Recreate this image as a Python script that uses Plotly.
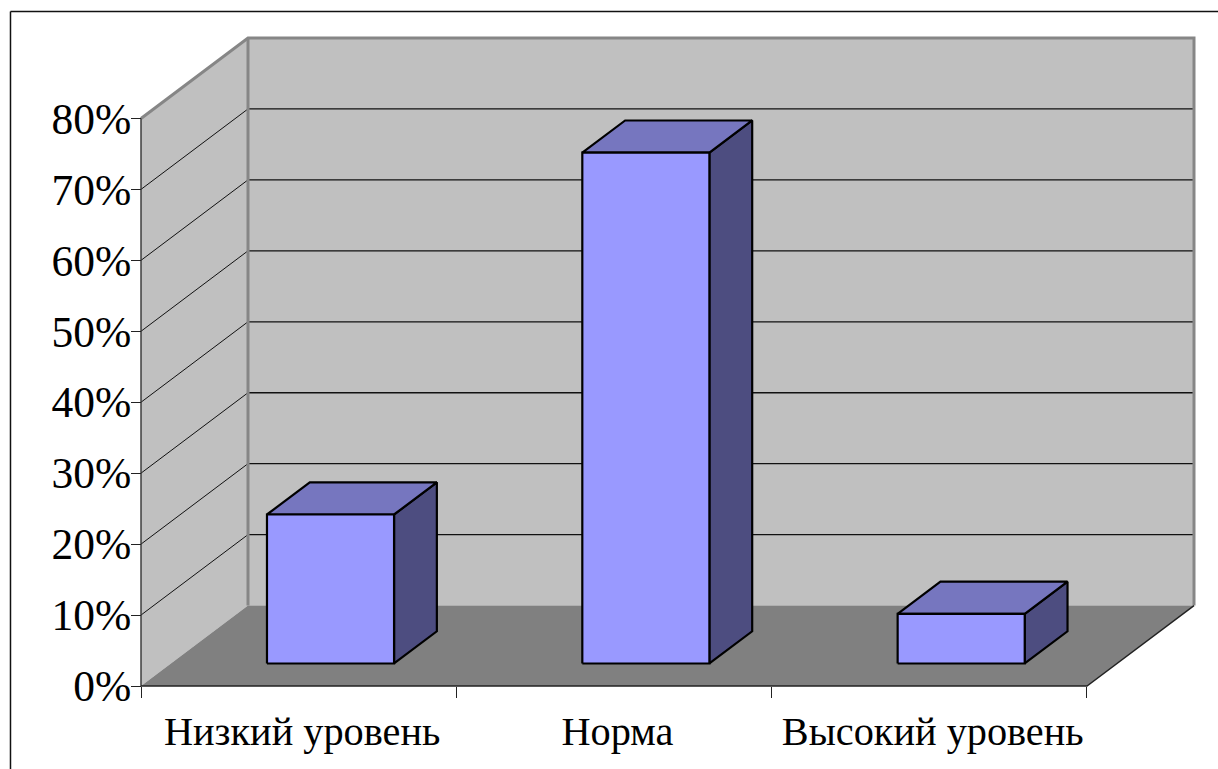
import plotly.graph_objects as go

# Chart data
categories = ["Низкий уровень", "Норма", "Высокий уровень"]
values = [21, 72, 7]
y_ticks = [0, 10, 20, 30, 40, 50, 60, 70, 80]
y_labels = ["0%", "10%", "20%", "30%", "40%", "50%", "60%", "70%", "80%"]

# Page and scale of the oblique box, in pixels
WIDTH, HEIGHT = 1218, 769
LEFT, BASE = 141.0, 686.5
CAT_PX, PCT_PX = 315.3, 7.1
WALL_DX, WALL_DY = 107.0, 80.5
PAD = 8.0

# Depth of the box and placement of the bars inside it, in axis units
DX = WALL_DX / CAT_PX
DY = WALL_DY / PCT_PX
BAR_WIDTH = 0.403
BAR_FRONT = 0.28
BAR_DEPTH = 0.40
BAR_SHIFT = 0.006
LABEL_SHIFT = 0.011
N = len(categories)
TOP = y_ticks[-1]

WALL = "#c0c0c0"
FLOOR = "#808080"
EDGE = "#868686"
FRONT = "#9999ff"
ROOF = "#7676bf"
SIDE = "#4d4d80"
FONT = "Liberation Serif"

fig = go.Figure()


def poly(xs, ys, fill=None, color=None, width=1.0):
    """Add a polygon or polyline given in axis units."""
    fig.add_trace(go.Scatter(
        x=xs, y=ys, mode="lines",
        fill="toself" if fill else None,
        fillcolor=fill,
        line=dict(color=color or "rgba(0,0,0,0)", width=width, simplify=False),
        hoverinfo="skip", showlegend=False,
    ))


# Side wall, back wall and floor
poly([0, DX, DX, 0, 0], [0, DY, TOP + DY, TOP, 0], fill=WALL)
poly([DX, N + DX, N + DX, DX, DX], [DY, DY, TOP + DY, TOP + DY, DY], fill=WALL)
poly([0, N, N + DX, DX, 0], [0, 0, DY, DY, 0], fill=FLOOR)

# Gridlines running along both walls
for tick in y_ticks[1:-1]:
    poly([0, DX], [tick, tick + DY], color="#111111", width=1.0)
    poly([DX, N + DX], [tick + DY, tick + DY], color="#111111", width=1.3)

# Heavy outline of the walls
poly([0, DX, N + DX, N + DX], [TOP, TOP + DY, TOP + DY, DY], color=EDGE, width=3)
poly([DX, DX], [DY, TOP + DY], color=EDGE, width=3)

# Front edges of the box
poly([0, 0], [0, TOP], color="#333333", width=1.4)
poly([0, N, N + DX], [0, 0, DY], color="#222222", width=1.4)

# Bars: front face, roof and side face of each box
bx = BAR_FRONT * DX
by = BAR_FRONT * DY
ddx = BAR_DEPTH * DX
ddy = BAR_DEPTH * DY
for i, value in enumerate(values):
    x0 = i + 0.5 - BAR_WIDTH / 2 + bx + BAR_SHIFT
    x1 = x0 + BAR_WIDTH
    y0 = by
    y1 = by + value
    poly([x1, x1 + ddx, x1 + ddx, x1, x1],
         [y0, y0 + ddy, y1 + ddy, y1, y0], fill=SIDE, color="black", width=2.2)
    poly([x0, x1, x1 + ddx, x0 + ddx, x0],
         [y1, y1, y1 + ddy, y1 + ddy, y1], fill=ROOF, color="black", width=2.2)
    poly([x0, x1, x1, x0, x0],
         [y0, y0, y1, y1, y0], fill=FRONT, color="black", width=2.2)

# Plot area reaches a little past the box so its edges are not cut
m_left = LEFT - PAD
m_bottom = HEIGHT - BASE - PAD
m_right = WIDTH - (LEFT + (N + DX) * CAT_PX) - PAD
m_top = BASE - (TOP + DY) * PCT_PX - PAD
plot_w = WIDTH - m_left - m_right
plot_h = HEIGHT - m_top - m_bottom
pad_x = PAD / CAT_PX
pad_y = PAD / PCT_PX


def px_x(p):
    return (p - m_left) / plot_w


def px_y(p):
    return (HEIGHT - m_bottom - p) / plot_h


fig.update_layout(
    width=WIDTH, height=HEIGHT,
    margin=dict(l=m_left, r=m_right, t=m_top, b=m_bottom, autoexpand=False),
    paper_bgcolor="white", plot_bgcolor="rgba(0,0,0,0)",
    showlegend=False,
    xaxis=dict(
        range=[-pad_x, N + DX + pad_x],
        anchor="free", position=PAD / plot_h,
        showgrid=False, zeroline=False, showline=False,
        tickmode="array",
        tickvals=[i + 0.5 + LABEL_SHIFT for i in range(N)], ticktext=categories,
        ticks="", ticklabelstandoff=18,
        tickfont=dict(family=FONT, size=40.3, color="black"),
        minor=dict(tickmode="array", tickvals=list(range(N + 1)), ticks="outside",
                   ticklen=11, tickwidth=1, tickcolor="#222222", showgrid=False),
    ),
    yaxis=dict(
        range=[-pad_y, TOP + DY + pad_y],
        anchor="free", position=PAD / plot_w,
        showgrid=False, zeroline=False, showline=False,
        tickmode="array", tickvals=y_ticks, ticktext=y_labels,
        ticks="outside", ticklen=10, tickwidth=1, tickcolor="#222222",
        ticklabelstandoff=-9,
        tickfont=dict(family=FONT, size=43.5, color="black"),
    ),
    shapes=[
        dict(type="line", xref="paper", yref="paper", layer="below",
             x0=px_x(10.5), y0=px_y(11.5), x1=px_x(WIDTH + 5), y1=px_y(11.5),
             line=dict(color="#111111", width=1.5)),
        dict(type="line", xref="paper", yref="paper", layer="below",
             x0=px_x(10.5), y0=px_y(11.5), x1=px_x(10.5), y1=px_y(HEIGHT + 5),
             line=dict(color="#111111", width=1.5)),
    ],
)

fig.write_html("out.html", config=dict(displayModeBar=False))
